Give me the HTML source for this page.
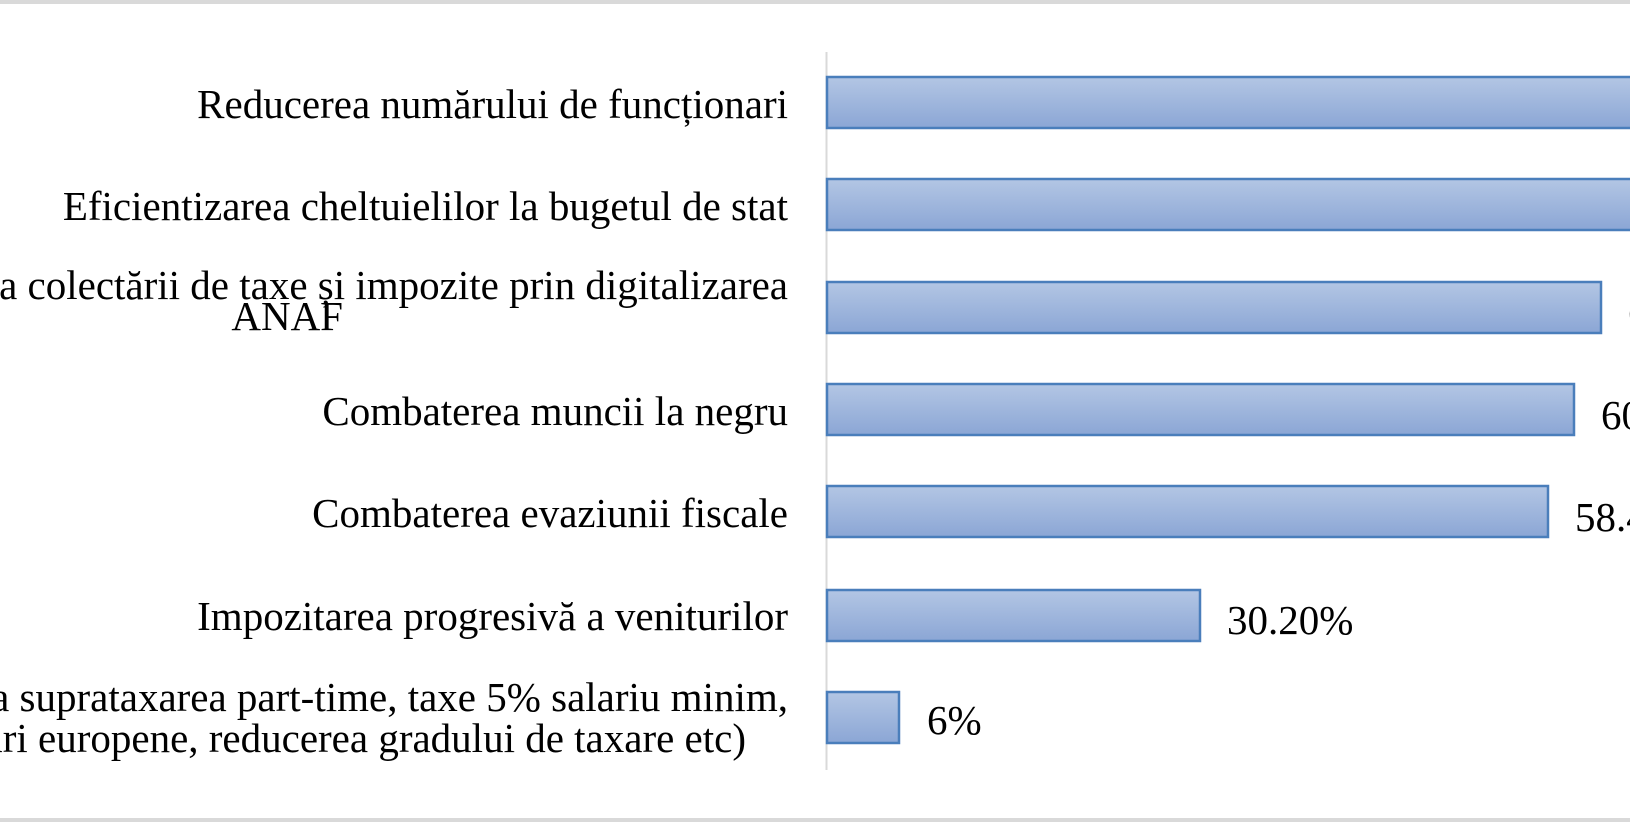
<!DOCTYPE html>
<html><head><meta charset="utf-8"><style>
html,body{margin:0;padding:0;background:#fff;}
svg{display:block;}
text{font-family:"Liberation Serif",serif;font-size:41px;fill:#000;}
</style></head><body>
<svg width="1630" height="822" viewBox="0 0 1630 822">
<defs><linearGradient id="g" x1="0" y1="0" x2="0" y2="1"><stop offset="0" stop-color="#b3c6e4"/><stop offset="1" stop-color="#8ba6d5"/></linearGradient></defs>
<rect x="0" y="0" width="1630" height="822" fill="#fff"/>
<rect x="0" y="0" width="1630" height="4" fill="#d9d9d9"/>
<rect x="0" y="818" width="1630" height="4" fill="#d9d9d9"/>
<line x1="826.5" y1="52" x2="826.5" y2="770" stroke="#d9d9d9" stroke-width="2"/>
<g fill="url(#g)" stroke="#4a7ebb" stroke-width="2.5">
<rect x="827" y="77" width="820" height="51"/>
<rect x="827" y="179" width="820" height="51"/>
<rect x="827" y="282" width="774" height="51"/>
<rect x="827" y="384" width="747" height="51"/>
<rect x="827" y="486" width="721" height="51"/>
<rect x="827" y="590" width="373" height="51"/>
<rect x="827" y="692" width="72" height="51"/>
</g>
<g text-anchor="end">
<text x="788" y="118">Reducerea numărului de funcționari</text>
<text x="788" y="220">Eficientizarea cheltuielilor la bugetul de stat</text>
<text x="788" y="299">Creșterea eficientizarea colectării de taxe și impozite prin digitalizarea</text>
<text x="343" y="330">ANAF</text>
<text x="788" y="425">Combaterea muncii la negru</text>
<text x="788" y="527">Combaterea evaziunii fiscale</text>
<text x="788" y="630">Impozitarea progresivă a veniturilor</text>
<text x="788" y="711">Altele (eliminarea suprataxarea part-time, taxe 5% salariu minim,</text>
<text x="746" y="752">atragerea de fonduri europene, reducerea gradului de taxare etc)</text>
</g>
<text x="1628" y="327">62.70%</text>
<text x="1601" y="429">60.50%</text>
<text x="1575" y="531">58.40%</text>
<text x="1227" y="634">30.20%</text>
<text x="927" y="734">6%</text>
</svg>
</body></html>
